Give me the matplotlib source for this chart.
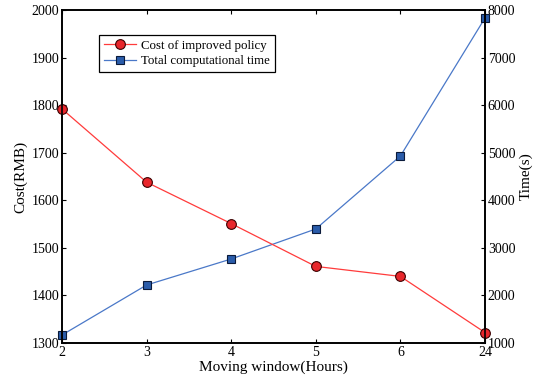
import matplotlib
matplotlib.use("Agg")
import matplotlib.pyplot as plt

categories = ["2", "3", "4", "5", "6", "24"]
cost = [1792, 1638, 1551, 1461, 1440, 1322]
time_s = [1168, 2219, 2766, 3397, 4931, 7832]

plt.rcParams['font.family'] = ['Liberation Serif', 'DejaVu Serif']
plt.rcParams['font.size'] = 10

fig = plt.figure(figsize=(5.43, 3.81), dpi=100)
ax = fig.add_axes([62/543, 38/381, 423/543, 333/381])
ax2 = ax.twinx()
x = list(range(len(categories)))

l1, = ax.plot(x, cost, color='#ff3b3b', lw=0.9, marker='o', ms=7,
              mfc='#e8262b', mec='#3a0000', mew=0.8, label='Cost of improved policy',
              clip_on=False)
l2, = ax2.plot(x, time_s, color='#4a78c8', lw=0.9, marker='s', ms=5.5,
               mfc='#2a5caa', mec='#0a1a3a', mew=0.8, label='Total computational time',
               clip_on=False)
ax.set_zorder(ax2.get_zorder() + 1)
ax.patch.set_visible(False)

ax.set_xlim(0, len(categories) - 1)
ax.set_xticks(x)
ax.set_xticklabels(categories)
ax.set_ylim(1300, 2000)
ax.set_yticks(range(1300, 2001, 100))
ax2.set_ylim(1000, 8000)
ax2.set_yticks(range(1000, 8001, 1000))

for a in (ax, ax2):
    a.tick_params(direction='in', length=3, width=0.8, labelsize=10, pad=2)
    for s in a.spines.values():
        s.set_linewidth(1.2)
ax.tick_params(top=True)

ax.set_xlabel('Moving window(Hours)', fontsize=11, labelpad=1)
ax.set_ylabel('Cost(RMB)', fontsize=11, labelpad=3)
ax2.set_ylabel('Time(s)', fontsize=11, labelpad=3)

leg = ax.legend([l1, l2], [l1.get_label(), l2.get_label()], loc='upper left',
                bbox_to_anchor=(0.088, 0.925), fancybox=False, edgecolor='black',
                framealpha=1, fontsize=9.3, handlelength=2.5, borderpad=0.35,
                labelspacing=0.3, handletextpad=0.4, borderaxespad=0)
leg.get_frame().set_linewidth(0.9)

fig.savefig('out.png', dpi=100)
